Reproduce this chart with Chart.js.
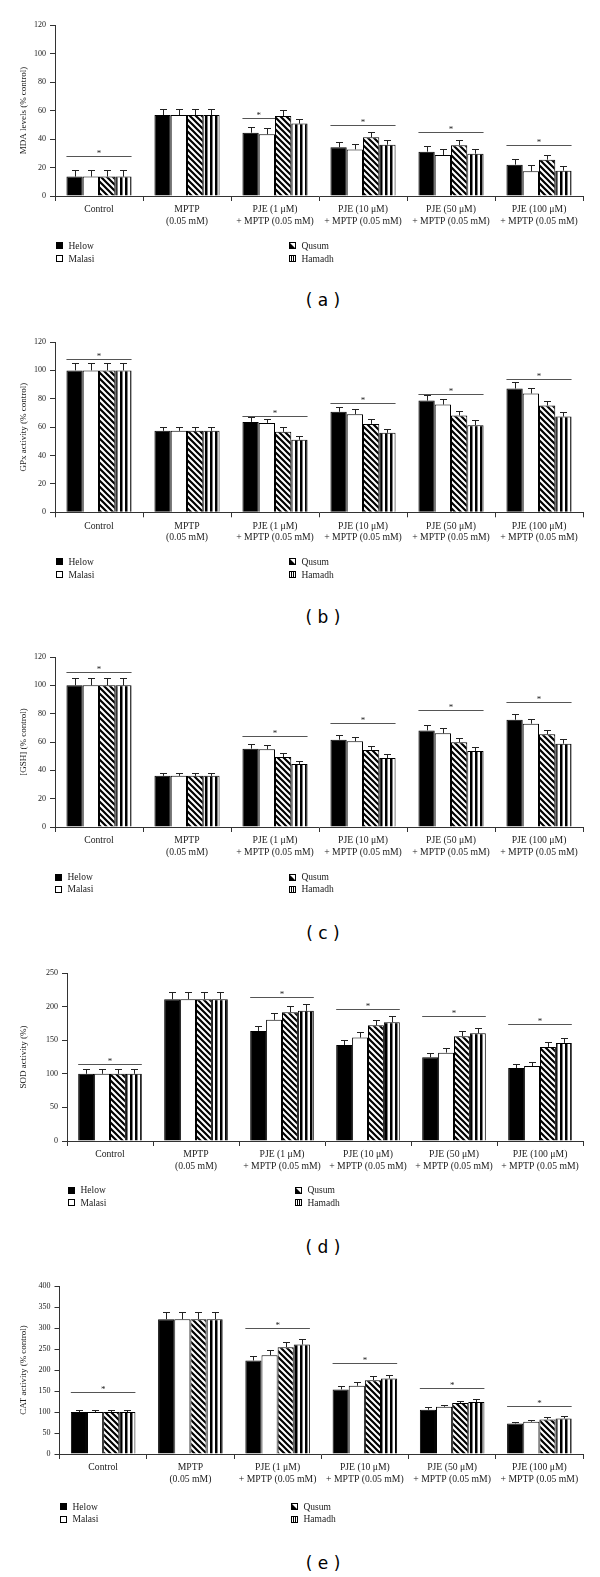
<!DOCTYPE html>
<html>
<head>
<meta charset="utf-8">
<script src="https://cdn.jsdelivr.net/npm/chart.js@4.4.0/dist/chart.umd.min.js"></script>
<style>
  html, body { margin: 0; padding: 0; background: #fff; }
  body { width: 600px; height: 1577px; position: relative; overflow: hidden; }
  canvas { position: absolute; left: 0; }
  .letter { position: absolute; font-family: "DejaVu Sans", sans-serif; font-size: 17px; line-height: 20px; transform: translate(-50%, -50%); white-space: pre; color: #000; }
</style>
</head>
<body>
<script>
/* ========= Data ========= */
const groups = [
  ["Control"],
  ["MPTP", "(0.05 mM)"],
  ["PJE (1 \u03bcM)", "+ MPTP (0.05 mM)"],
  ["PJE (10 \u03bcM)", "+ MPTP (0.05 mM)"],
  ["PJE (50 \u03bcM)", "+ MPTP (0.05 mM)"],
  ["PJE (100 \u03bcM)", "+ MPTP (0.05 mM)"]
];
const seriesNames = ["Helow", "Malasi", "Qusum", "Hamadh"];

// (a) MDA levels — rows: Helow, Malasi, Qusum, Hamadh
const mdaValues = [
  [13.6, 56.8, 44.4, 34.2, 31.1, 22.0],
  [13.6, 56.8, 43.3, 32.7, 28.8, 17.3],
  [13.6, 56.8, 56.1, 41.2, 35.6, 25.5],
  [13.6, 56.8, 50.8, 36.0, 29.7, 17.8]
];
const mdaErrors = [
  [4.4, 4.2, 4.3, 3.9, 3.8, 4.0],
  [4.4, 4.2, 4.7, 4.0, 4.4, 4.7],
  [4.4, 4.2, 4.3, 3.9, 3.7, 3.5],
  [4.4, 4.2, 3.5, 3.3, 3.3, 3.5]
];
const mdaSigLevels = [28, null, 54.7, 50, 45, 35.5];
const mdaSigSpans = [4, 0, 2, 4, 4, 4];

// (b) GPx activity
const gpxValues = [
  [100, 57.4, 63.7, 70.8, 78.7, 87.2],
  [100, 57.4, 63.0, 69.1, 75.9, 83.7],
  [100, 57.4, 56.7, 62.3, 68.2, 75.2],
  [100, 57.4, 51.1, 56.0, 61.4, 67.5]
];
const gpxErrors = [
  [5.2, 2.8, 3.3, 3.5, 3.8, 4.4],
  [5.2, 2.8, 3.0, 3.6, 3.8, 3.9],
  [5.2, 2.8, 3.1, 3.1, 3.5, 3.5],
  [5.2, 2.8, 2.6, 2.8, 3.3, 3.5]
];
const gpxSigLevels = [108.3, null, 68, 77.1, 83.7, 94];
const gpxSigSpans = [4, 0, 4, 4, 4, 4];

// (c) [GSH]
const gshValues = [
  [100, 36.1, 55.3, 61.6, 68.2, 75.7],
  [100, 36.1, 54.8, 60.5, 66.1, 72.9],
  [100, 36.1, 49.4, 54.4, 59.8, 65.4],
  [100, 36.1, 44.5, 48.7, 53.7, 58.8]
];
const gshErrors = [
  [5.2, 1.9, 3.1, 3.1, 3.5, 4.2],
  [5.2, 1.9, 2.9, 3.0, 3.5, 3.5],
  [5.2, 1.9, 2.6, 2.6, 2.8, 3.3],
  [5.2, 1.9, 2.4, 2.6, 2.5, 3.1]
];
const gshSigLevels = [109.2, null, 64, 73.1, 82.7, 88.4];
const gshSigSpans = [4, 0, 4, 4, 4, 4];

// (d) SOD activity
const sodValues = [
  [100, 211, 163.8, 142.9, 124.5, 108.6],
  [100, 211, 180.3, 153.9, 131.5, 111.6],
  [100, 211, 191.7, 172.3, 155.9, 140.0],
  [100, 211, 193.7, 176.8, 160.4, 146.0]
];
const sodErrors = [
  [6.5, 11, 8.0, 7.0, 6.5, 5.4],
  [6.5, 11, 9.9, 8.0, 6.5, 5.9],
  [6.5, 11, 9.0, 8.5, 7.4, 7.4],
  [6.5, 11, 9.5, 8.5, 7.9, 7.4]
];
const sodSigLevels = [114, null, 213.6, 196.7, 185.8, 173.8];
const sodSigSpans = [4, 0, 4, 4, 4, 4];

// (e) CAT activity
const catValues = [
  [100, 321, 222.6, 153.7, 105.3, 72.9],
  [100, 321, 235.2, 162.4, 112.5, 76.8],
  [100, 321, 254.3, 175.8, 121.2, 82.4],
  [100, 321, 260.6, 179.8, 123.6, 84.8]
];
const catErrors = [
  [4.7, 16.5, 11.1, 7.1, 6.4, 3.1],
  [4.7, 16.5, 11.8, 7.9, 4.7, 4.0],
  [4.7, 16.5, 12.7, 8.8, 5.5, 4.7],
  [4.7, 16.5, 12.7, 8.7, 6.3, 4.7]
];
const catSigLevels = [146.5, null, 300.2, 216.2, 156, 113.3];
const catSigSpans = [4, 0, 4, 4, 4, 4];

const yTitles = ["MDA levels (% control)", "GPx activity (% control)", "[GSH] (% control)", "SOD activity (%)", "CAT activity (% control)"];
const yMax = [120, 120, 120, 250, 400];
const yStep = [20, 20, 20, 50, 50];
const letters = ["a", "b", "c", "d", "e"];

/* ========= Layout (pixels) ========= */
const axisX = [55, 55, 55, 67, 59.5];
const plotTop = [25, 341.7, 657, 973, 1286];
const plotZero = [196, 512, 827, 1141, 1454];
const legendRows = [[245.5, 258.7], [561.3, 574.3], [877, 889.3], [1190, 1202.7], [1506.7, 1519.3]];
const legendX = [[56, 288.5], [56, 288.5], [55, 288.5], [68, 295.4], [59.6, 291]];
const letterY = [300, 617, 933, 1247, 1563];

const FONT = "Liberation Serif";
const PAD = 15;

/* ========= Fills ========= */
function diagPattern() {
  const c = document.createElement("canvas");
  c.width = 6; c.height = 6;
  const g = c.getContext("2d");
  g.fillStyle = "#fff"; g.fillRect(0, 0, 6, 6);
  g.strokeStyle = "#000"; g.lineWidth = 2.2;
  g.beginPath();
  g.moveTo(-1, -1); g.lineTo(7, 7);
  g.moveTo(-1, 5); g.lineTo(1, 7);
  g.moveTo(5, -1); g.lineTo(7, 1);
  g.stroke();
  return g.createPattern(c, "repeat");
}
function vertPattern() {
  const c = document.createElement("canvas");
  c.width = 5; c.height = 1;
  const g = c.getContext("2d");
  g.fillStyle = "#fff"; g.fillRect(0, 0, 5, 1);
  g.fillStyle = "#000"; g.fillRect(0, 0, 2.5, 1);
  return g.createPattern(c, "repeat");
}
const fills = ["#000", "#fff", diagPattern(), vertPattern()];

function drawIcon(ctx, i, x, y) {
  // 7x7 legend swatch, top-left at x,y
  ctx.fillStyle = "#fff"; ctx.fillRect(x, y, 7, 7);
  ctx.fillStyle = "#000";
  if (i === 0) ctx.fillRect(x, y, 7, 7);
  if (i === 2) { ctx.beginPath(); ctx.moveTo(x, y); ctx.lineTo(x + 7, y + 7); ctx.lineTo(x, y + 7); ctx.closePath(); ctx.fill(); }
  if (i === 3) { ctx.fillRect(x + 2, y, 1, 7); ctx.fillRect(x + 4, y, 1, 7); }
  ctx.strokeStyle = "#000"; ctx.lineWidth = 1;
  ctx.strokeRect(x + 0.5, y + 0.5, 6, 6);
}

/* ========= Extras plugin: error bars, significance, y title, legend ========= */
const extras = {
  id: "extras",
  afterDatasetsDraw(chart, args, opts) {
    const ctx = chart.ctx, y = chart.scales.y;
    ctx.save();
    ctx.strokeStyle = "#222"; ctx.lineWidth = 1;
    chart.data.datasets.forEach((ds, i) => {
      chart.getDatasetMeta(i).data.forEach((bar, j) => {
        const top = y.getPixelForValue(ds.data[j]);
        const tip = Math.round(y.getPixelForValue(ds.data[j] + ds.errors[j])) + 0.5;
        const x = Math.round(bar.x) + 0.5;
        ctx.beginPath();
        ctx.moveTo(x, top); ctx.lineTo(x, tip);
        ctx.moveTo(x - 3.5, tip); ctx.lineTo(x + 3.5, tip);
        ctx.stroke();
      });
    });
    // significance lines
    ctx.strokeStyle = "#555"; ctx.fillStyle = "#222";
    ctx.font = "9px " + FONT; ctx.textAlign = "center"; ctx.textBaseline = "alphabetic";
    opts.levels.forEach((lv, j) => {
      if (lv == null) return;
      const first = chart.getDatasetMeta(0).data[j];
      const last = chart.getDatasetMeta(opts.spans[j] - 1).data[j];
      const x0 = first.x - first.width / 2, x1 = last.x + last.width / 2;
      const ly = Math.round(y.getPixelForValue(lv)) + 0.5;
      ctx.beginPath(); ctx.moveTo(x0, ly); ctx.lineTo(x1, ly); ctx.stroke();
      ctx.fillText("*", (x0 + x1) / 2, ly - 0.5);
    });
    // legend (page coordinates shifted into this canvas)
    const k = opts.panel, off = plotTop[k] - PAD;
    ctx.font = "9.5px " + FONT; ctx.textAlign = "left"; ctx.textBaseline = "middle";
    seriesNames.forEach((name, i) => {
      const col = i < 2 ? 0 : 1, row = i % 2;
      const lx = Math.round(legendX[k][col]);
      const ly = legendRows[k][row] - off;
      drawIcon(ctx, i, lx, Math.round(ly - 3.5));
      ctx.fillStyle = "#1a1a1a";
      ctx.fillText(name, lx + 12.5, ly + 0.5);
    });
    // y title
    const a = chart.chartArea;
    ctx.translate(24, (a.top + a.bottom) / 2);
    ctx.rotate(-Math.PI / 2);
    ctx.font = "9px " + FONT; ctx.textAlign = "center"; ctx.textBaseline = "middle"; ctx.fillStyle = "#1a1a1a";
    ctx.fillText(opts.title, 0, 0);
    ctx.restore();
  }
};

/* ========= Panels ========= */
function makePanel(k, values, errors, sigLevels, sigSpans) {
  const top = plotTop[k] - PAD;
  const h = Math.round(legendRows[k][1] + 10 - top);
  const bottomPad = h - (plotZero[k] - top) - 36;
  const cv = document.createElement("canvas");
  cv.width = 600; cv.height = h;
  cv.style.width = "600px"; cv.style.height = h + "px";
  cv.style.top = top + "px";
  document.body.appendChild(cv);

  new Chart(cv.getContext("2d"), {
    type: "bar",
    data: {
      labels: groups,
      datasets: seriesNames.map((name, i) => ({
        label: name,
        data: values[i],
        errors: errors[i],
        backgroundColor: fills[i],
        borderColor: "#000",
        borderWidth: 1,
        barPercentage: 1,
        categoryPercentage: 0.74
      }))
    },
    options: {
      responsive: false,
      animation: false,
      devicePixelRatio: 1,
      layout: { padding: { top: PAD, right: 17, left: 0, bottom: bottomPad } },
      plugins: {
        legend: { display: false },
        tooltip: { enabled: false },
        extras: { levels: sigLevels, spans: sigSpans, title: yTitles[k], panel: k }
      },
      scales: {
        x: {
          grid: { display: true, drawOnChartArea: false, drawTicks: true, tickLength: 5, color: "#333", offset: true },
          border: { color: "#333", width: 1 },
          ticks: { font: { family: FONT, size: 9.7, lineHeight: 1.2 }, color: "#1a1a1a", padding: 3, maxRotation: 0, autoSkip: false },
          afterFit: s => { s.height = 36; }
        },
        y: {
          min: 0, max: yMax[k],
          ticks: { stepSize: yStep[k], font: { family: FONT, size: 8 }, color: "#1a1a1a", padding: 4 },
          grid: { drawOnChartArea: false, tickLength: 5, color: "#333" },
          border: { color: "#333", width: 1 },
          afterFit: s => { s.width = axisX[k]; }
        }
      }
    },
    plugins: [extras]
  });

  const lt = document.createElement("div");
  lt.className = "letter";
  lt.style.left = "323px";
  lt.style.top = letterY[k] + "px";
  lt.textContent = "( " + letters[k] + " )";
  document.body.appendChild(lt);
}

makePanel(0, mdaValues, mdaErrors, mdaSigLevels, mdaSigSpans);
makePanel(1, gpxValues, gpxErrors, gpxSigLevels, gpxSigSpans);
makePanel(2, gshValues, gshErrors, gshSigLevels, gshSigSpans);
makePanel(3, sodValues, sodErrors, sodSigLevels, sodSigSpans);
makePanel(4, catValues, catErrors, catSigLevels, catSigSpans);
</script>
</body>
</html>
